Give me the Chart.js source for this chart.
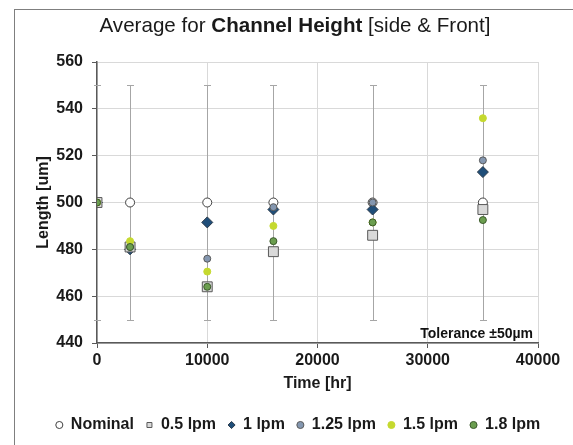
<!DOCTYPE html>
<html>
<head>
<meta charset="utf-8">
<script src="https://cdn.jsdelivr.net/npm/chart.js@4"></script>
<style>
html,body{margin:0;padding:0;background:#fff;overflow:hidden;}
#wrap{position:relative;width:573px;height:445px;}
#frame{position:absolute;left:14px;top:9px;width:700px;height:600px;border:1px solid #7f7f7f;box-sizing:border-box;}
canvas{position:absolute;left:0;top:0;}
</style>
</head>
<body>
<div id="wrap"><div id="frame"></div><canvas id="c" width="573" height="445"></canvas></div>
<script>
// ---- data ----
const times = [0, 3000, 10000, 16000, 25000, 35000];
const nominal = [500, 500, 500, 500, 500, 500];
const tolerance = 50;
const lpm05 = [500, 481, 464, 479, 486, 497];
const lpm1 = [500, 480, 491.5, 497, 497, 513];
const lpm125 = [500, 481, 476, 498, 500, 518];
const lpm15 = [500, 483.5, 470.5, 490, 491.5, 536];
const lpm18 = [500, 481, 464, 483.5, 491.5, 492.5];
const xTicks = [0, 10000, 20000, 30000, 40000];
const yTicks = [440, 460, 480, 500, 520, 540, 560];
const seriesNames = ['Nominal', '0.5 lpm', '1 lpm', '1.25 lpm', '1.5 lpm', '1.8 lpm'];

const pts = arr => times.map((t, i) => ({x: t, y: arr[i]}));
const F = 'Arial, "Liberation Sans", sans-serif';

const errorBars = {
  id: 'errorBars',
  beforeDatasetsDraw(chart) {
    const {ctx, scales: {x, y}} = chart;
    ctx.save();
    ctx.strokeStyle = '#a6a6a6';
    ctx.lineWidth = 1;
    times.forEach((t, i) => {
      const px = Math.round(x.getPixelForValue(t)) + 0.5;
      const top = Math.round(y.getPixelForValue(nominal[i] + tolerance)) + 0.5;
      const bot = Math.round(y.getPixelForValue(nominal[i] - tolerance)) + 0.5;
      ctx.beginPath();
      ctx.moveTo(px, top); ctx.lineTo(px, bot);
      ctx.moveTo(px - 3.5, top); ctx.lineTo(px + 3.5, top);
      ctx.moveTo(px - 3.5, bot); ctx.lineTo(px + 3.5, bot);
      ctx.stroke();
    });
    ctx.restore();
  }
};

const texts = {
  id: 'texts',
  afterLayout(chart) {
    const lg = chart.legend;
    if (lg) { lg.left += 29; lg.right += 29; }
  },
  afterDraw(chart) {
    const {ctx, chartArea} = chart;
    ctx.save();
    // title with mixed weight
    const parts = [['Average for ', 'normal'], ['Channel Height', 'bold'], [' [side & Front]', 'normal']];
    const size = 20.6;
    let total = 0;
    parts.forEach(p => { ctx.font = p[1] + ' ' + size + 'px ' + F; total += ctx.measureText(p[0]).width; });
    let x = 295 - total / 2;
    ctx.fillStyle = '#1a1a1a';
    ctx.textBaseline = 'middle';
    ctx.textAlign = 'left';
    parts.forEach(p => { ctx.font = p[1] + ' ' + size + 'px ' + F; ctx.fillText(p[0], x, 26); x += ctx.measureText(p[0]).width; });
    // tolerance note
    ctx.font = 'bold 14px ' + F;
    ctx.textAlign = 'right';
    ctx.fillStyle = '#111';
    ctx.fillText('Tolerance \u00B1' + tolerance + '\u00B5m', chartArea.right - 5, chartArea.bottom - 9);
    ctx.restore();
  }
};

const mk = (label, data, style, radius, bg, border, order) => ({
  label, data: pts(data), pointStyle: style, pointRadius: radius, pointHoverRadius: radius,
  backgroundColor: bg, borderColor: border, pointBorderWidth: 1, borderWidth: 1,
  showLine: false, order
});

new Chart(document.getElementById('c'), {
  type: 'scatter',
  data: {
    datasets: [
      mk(seriesNames[0], nominal, 'circle', 4.5, '#ffffff', '#404040', 6),
      mk(seriesNames[1], lpm05, 'rect', 7, '#d9d9d9', '#595959', 4),
      mk(seriesNames[2], lpm1, 'rectRot', 5.5, '#1f4e79', '#2b3a4a', 5),
      mk(seriesNames[3], lpm125, 'circle', 3.5, '#8497b0', '#595959', 3),
      mk(seriesNames[4], lpm15, 'circle', 3.5, '#c5d92f', '#c5d92f', 2),
      mk(seriesNames[5], lpm18, 'circle', 3.5, '#6b9e4f', '#3b5a2b', 1)
    ]
  },
  options: {
    responsive: false,
    animation: false,
    layout: {padding: {left: 0, right: 35, top: 62, bottom: 2}},
    plugins: {
      title: {display: false},
      tooltip: {enabled: false},
      legend: {
        position: 'bottom',
        labels: {
          usePointStyle: true, boxWidth: 7, boxHeight: 5, padding: 12,
          color: '#1a1a1a', font: {family: F, size: 16, weight: 'bold'},
          sort: (a, b) => a.datasetIndex - b.datasetIndex
        }
      }
    },
    scales: {
      x: {
        type: 'linear', min: 0, max: 40000,
        afterBuildTicks: s => { s.ticks = xTicks.map(v => ({value: v})); },
        afterFit: s => { s.height = 62; },
        ticks: {color: '#1a1a1a', font: {family: F, size: 16, weight: 'bold'}, padding: 3, maxRotation: 0, callback: v => String(v)},
        grid: {color: '#d9d9d9', tickColor: '#595959', tickLength: 5},
        border: {color: '#595959', width: 1.5},
        title: {display: true, text: 'Time [hr]', color: '#1a1a1a', font: {family: F, size: 16, weight: 'bold'}, padding: {top: 0, bottom: 11.4}}
      },
      y: {
        type: 'linear', min: 440, max: 560,
        afterBuildTicks: s => { s.ticks = yTicks.map(v => ({value: v})); },
        afterFit: s => { s.width = 97; },
        ticks: {color: '#1a1a1a', font: {family: F, size: 16, weight: 'bold'}, padding: 9, callback: v => String(v)},
        grid: {color: '#d9d9d9', tickColor: '#595959', tickLength: 5},
        border: {color: '#595959', width: 1.5},
        title: {display: true, text: 'Length [um]', color: '#1a1a1a', font: {family: F, size: 16, weight: 'bold'}, padding: {top: 33.5, bottom: 0}}
      }
    }
  },
  plugins: [errorBars, texts]
});
</script>
</body>
</html>
